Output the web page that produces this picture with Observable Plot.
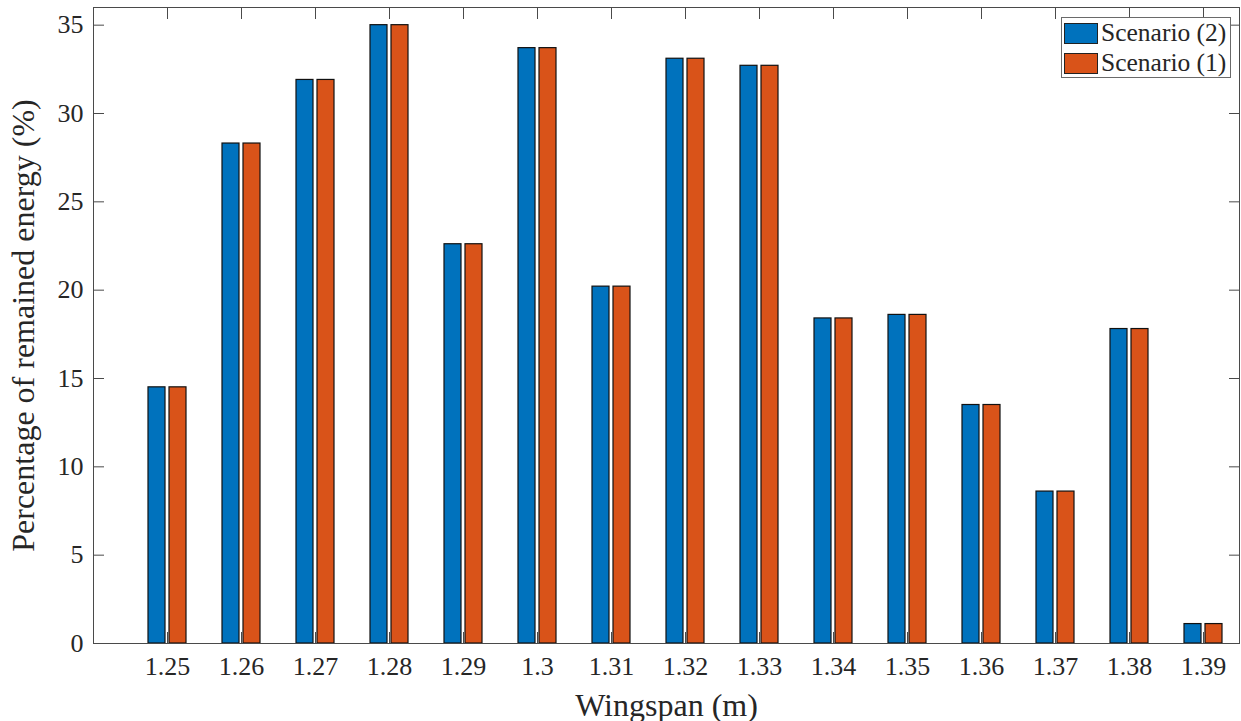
<!DOCTYPE html>
<html>
<head>
<meta charset="utf-8">
<script src="https://cdn.jsdelivr.net/npm/d3@7"></script>
<script src="https://cdn.jsdelivr.net/npm/@observablehq/plot@0.6"></script>
<style>
  html, body { margin: 0; padding: 0; background: #fff; }
  #wrap { position: relative; width: 1241px; height: 721px; }
  #wrap svg { display: block; font-family: "Liberation Serif", "Times New Roman", Times, "DejaVu Serif", serif !important; }
  #wrap svg text { font-family: "Liberation Serif", "Times New Roman", Times, "DejaVu Serif", serif; }
  g[aria-label="x-axis label"] text, g[aria-label="y-axis label"] text { font-size: 32px; }
  #legend {
    position: absolute; left: 1061px; top: 17px; width: 170px; height: 61px;
    border: 1px solid #6a6a6a; background: #fff; box-sizing: border-box;
    font-family: "Liberation Serif", "Times New Roman", Times, "DejaVu Serif", serif; font-size: 25.5px; color: #262626;
  }
  #legend .item { position: absolute; left: 2px; height: 22px; display: flex; align-items: center; white-space: nowrap; }
  #legend .sw { width: 34px; height: 21px; border: 1px solid #222; box-sizing: border-box; margin-right: 3px; }
</style>
</head>
<body>
<div id="wrap"></div>
<script>
const wingspan = ["1.25","1.26","1.27","1.28","1.29","1.3","1.31","1.32","1.33","1.34","1.35","1.36","1.37","1.38","1.39"];
const scenario2 = [14.5, 28.3, 31.9, 35.0, 22.6, 33.7, 20.2, 33.1, 32.7, 18.4, 18.6, 13.5, 8.6, 17.8, 1.1];
const scenario1 = [14.5, 28.3, 31.9, 35.0, 22.6, 33.7, 20.2, 33.1, 32.7, 18.4, 18.6, 13.5, 8.6, 17.8, 1.1];
const yTicks = [0, 5, 10, 15, 20, 25, 30, 35];
const seriesNames = ["Scenario (2)", "Scenario (1)"];
const seriesColors = ["#0072BD", "#D95319"];

const data2 = wingspan.map((w, i) => ({wingspan: w, value: scenario2[i]}));
const data1 = wingspan.map((w, i) => ({wingspan: w, value: scenario1[i]}));

const axisColor = "#4a4a4a";
const chart = Plot.plot({
  width: 1241,
  height: 721,
  marginLeft: 93,
  marginRight: 2,
  marginTop: 7,
  marginBottom: 78,
  style: {fontFamily: "Liberation Serif, Times New Roman, serif", fontSize: "26px", color: "#262626", background: "white"},
  x: {type: "band", domain: wingspan, paddingInner: 0.4807, paddingOuter: 0.4689, align: 0.7728},
  y: {domain: [0, 36]},
  marks: [
    Plot.axisX({anchor: "bottom", tickSize: -11, tickFormat: () => "", label: null, stroke: axisColor}),
    Plot.barY(data2, {x: "wingspan", y: "value", fill: seriesColors[0], stroke: "#111", strokeWidth: 1.2, insetRight: 21}),
    Plot.barY(data1, {x: "wingspan", y: "value", fill: seriesColors[1], stroke: "#111", strokeWidth: 1.2, insetLeft: 21}),
    Plot.axisX({anchor: "top", tickSize: -11, tickFormat: () => "", label: null, stroke: axisColor}),
    Plot.axisY({anchor: "left", ticks: yTicks, tickSize: -11, tickFormat: () => "", label: null, stroke: axisColor}),
    Plot.axisY({anchor: "right", ticks: yTicks, tickSize: -11, tickFormat: () => "", label: null, stroke: axisColor}),
    Plot.axisX({anchor: "bottom", tickSize: 0, tickPadding: 13, label: "Wingspan (m)", labelAnchor: "center", labelOffset: 72, labelArrow: "none"}),
    Plot.axisY({anchor: "left", ticks: yTicks, tickSize: 0, tickPadding: 10, label: "Percentage of remained energy (%)", labelAnchor: "center", labelOffset: 82, labelArrow: "none"}),
    Plot.frame({stroke: axisColor, strokeWidth: 1})
  ]
});
const wrap = document.getElementById("wrap");
wrap.appendChild(chart);

const legend = document.createElement("div");
legend.id = "legend";
seriesNames.forEach((name, i) => {
  const item = document.createElement("div");
  item.className = "item";
  item.style.top = (4 + i * 30) + "px";
  const sw = document.createElement("div");
  sw.className = "sw";
  sw.style.background = seriesColors[i];
  const t = document.createElement("span");
  t.textContent = name;
  item.appendChild(sw);
  item.appendChild(t);
  legend.appendChild(item);
});
wrap.appendChild(legend);
</script>
</body>
</html>
